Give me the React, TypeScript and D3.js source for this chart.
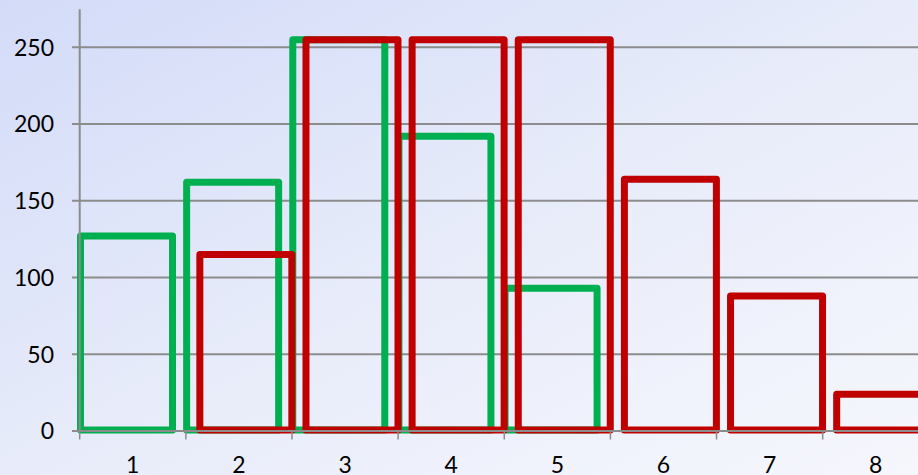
import React from "react";
import * as d3 from "d3";

const categories = ["1", "2", "3", "4", "5", "6", "7", "8"];
const greenValues = [127, 162, 255, 192, 93, 0, 0, 0];
const redValues = [0, 115, 255, 255, 255, 164, 88, 24];
const yTicks = [0, 50, 100, 150, 200, 250];

const W = 918;
const H = 475;
const FONT = "Lato, 'Open Sans', sans-serif";

export default function App() {
  const x0 = 79.7;
  const band = 106.14;
  const x = d3
    .scaleBand<string>()
    .domain(categories)
    .range([x0, x0 + band * categories.length])
    .paddingInner(0)
    .paddingOuter(0);
  const y = d3.scaleLinear().domain([0, 250]).range([431, 47.3]);

  const bw = 92;
  const greenOff = 0.8;
  const redOff = 14;
  const sw = 7;

  const bars = (vals: number[], off: number, color: string, key: string) =>
    vals.map((v, i) => {
      if (v <= 0) return null;
      const left = (x(categories[i]) as number) + off;
      const top = y(v);
      const bottom = y(0) - 1;
      return (
        <rect
          key={key + i}
          x={left}
          y={top}
          width={bw}
          height={bottom - top}
          fill="none"
          stroke={color}
          strokeWidth={sw}
          strokeLinejoin="round"
        />
      );
    });

  const boundaries = d3.range(categories.length + 1).map((i) => x0 + i * band);

  return (
    <svg
      width={W}
      height={H}
      style={{ position: "absolute", left: 0, top: 0, display: "block" }}
    >
      <defs>
        <linearGradient id="bg" x1="0" y1="0" x2="1" y2="1">
          <stop offset="0" stopColor="#d3dbf8" />
          <stop offset="0.55" stopColor="#e9edfa" />
          <stop offset="1" stopColor="#f6f7fd" />
        </linearGradient>
      </defs>
      <rect x={0} y={0} width={W} height={H} fill="url(#bg)" />

      {/* gridlines */}
      {yTicks.map((t) => (
        <line
          key={"g" + t}
          x1={72}
          x2={W}
          y1={y(t)}
          y2={y(t)}
          stroke="#8c8c8c"
          strokeWidth={2}
        />
      ))}

      {/* bars */}
      {bars(greenValues, greenOff, "#00b050", "g")}
      {bars(redValues, redOff, "#c00000", "r")}

      {/* axes */}
      <line x1={x0} x2={x0} y1={9.3} y2={432} stroke="#8c8c8c" strokeWidth={2} />
      <line x1={72} x2={W} y1={y(0)} y2={y(0)} stroke="#8c8c8c" strokeWidth={2} />
      {boundaries.map((b, i) => (
        <line
          key={"t" + i}
          x1={b}
          x2={b}
          y1={y(0)}
          y2={y(0) + 8.5}
          stroke="#8c8c8c"
          strokeWidth={1.5}
        />
      ))}

      {/* y labels */}
      {yTicks.map((t) => (
        <text
          key={"yl" + t}
          x={54}
          y={y(t) + 8.3}
          textAnchor="end"
          fontFamily={FONT}
          fontSize={23}
          fill="#000"
        >
          {t}
        </text>
      ))}

      {/* x labels */}
      {categories.map((c) => (
        <text
          key={"xl" + c}
          x={(x(c) as number) + x.bandwidth() / 2}
          y={473}
          textAnchor="middle"
          fontFamily={FONT}
          fontSize={23}
          fill="#000"
        >
          {c}
        </text>
      ))}
    </svg>
  );
}
